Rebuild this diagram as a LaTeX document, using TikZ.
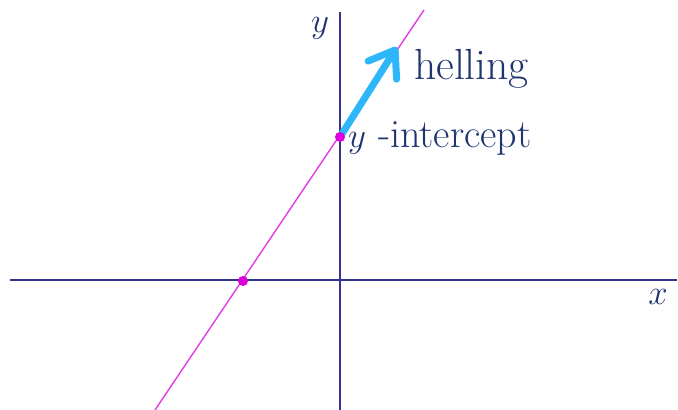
\documentclass[tikz,border=0pt]{standalone}
\usetikzlibrary{arrows.meta}
\definecolor{axisblue}{RGB}{52,52,140}
\definecolor{textblue}{RGB}{32,52,112}
\definecolor{linepink}{RGB}{228,60,228}
\definecolor{dotpink}{RGB}{220,0,220}
\definecolor{arrowblue}{RGB}{45,182,250}
\begin{document}
\begin{tikzpicture}[x=0.25mm,y=-0.25mm,line width=1.5pt,every node/.style={text=textblue,inner sep=0pt}]
\path[use as bounding box] (0,0) rectangle (678,410);
\coordinate (L) at (10,280);
\coordinate (R) at (677,280);
\coordinate (B) at (340,410);
\coordinate (U) at (340,12);
\coordinate (P) at (155,410);
\coordinate (Q) at (424,10);
\coordinate (Y) at (340,137);
\coordinate (X) at (243,281);
\coordinate (S) at (397,47);
\draw[axisblue] (L) -- (R);
\draw[axisblue] (B) -- (U);
\draw[linepink,line width=1pt] (P) -- (Q);
\draw[arrowblue,line width=5pt,line cap=round,-{Straight Barb[length=17pt,width=24pt,round]}] (Y) -- (S);
\fill[dotpink] (Y) circle[radius=5];
\fill[dotpink] (X) circle[radius=5];
\node[font=\fontsize{26}{28}\selectfont] (ylab) at (320,28) {$y$};
\node[font=\fontsize{27}{29}\selectfont] (xlab) at (658,297) {$x$};
\node[anchor=base west,font=\fontsize{31}{33}\selectfont] (slope) at (413,80) {helling};
\node[anchor=base west,font=\fontsize{28.5}{30}\selectfont] (icpt) at (347,148) {$y$ -intercept};
\end{tikzpicture}
\end{document}
